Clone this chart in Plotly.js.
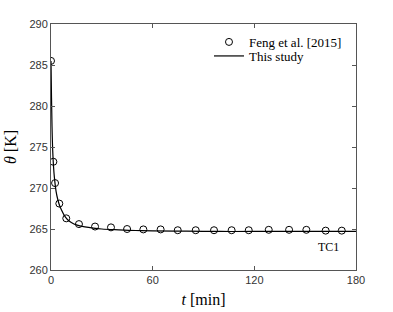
<!DOCTYPE html>
<html>
<head>
<meta charset="utf-8">
<script src="https://cdn.plot.ly/plotly-3.0.1.min.js"></script>
<style>html,body{margin:0;padding:0;background:#fff;}#chart{width:393px;height:312px;}</style>
</head>
<body>
<div id="chart"></div>
<script>
// Measured data (Feng et al. [2015])
const fengT = [0, 1.4, 2.4, 4.9, 9.0, 16.5, 26, 35.4, 44.9, 54.5, 64.7, 74.8, 85.4, 96.2, 106.6, 116.7, 128.5, 140.5, 150.7, 162.1, 171.6];
const fengTheta = [285.5, 273.2, 270.6, 268.1, 266.3, 265.6, 265.3, 265.2, 265.0, 264.95, 264.95, 264.85, 264.85, 264.85, 264.85, 264.85, 264.9, 264.9, 264.9, 264.8, 264.8];
// Model (This study)
const studyT = [0, 0.3, 0.6, 1.0, 1.5, 2.0, 3.0, 4.0, 5.0, 6.0, 8.0, 10, 12, 15, 20, 25, 30, 40, 50, 60, 80, 100, 120, 150, 180];
const studyTheta = [285.5, 281.0, 277.5, 274.6, 272.6, 271.3, 269.6, 268.6, 267.9, 267.4, 266.6, 266.1, 265.8, 265.5, 265.25, 265.1, 265.0, 264.9, 264.82, 264.78, 264.73, 264.7, 264.7, 264.7, 264.7];
const xTicks = [0, 60, 120, 180];
const yTicks = [260, 265, 270, 275, 280, 285, 290];

const serif = "Liberation Serif, Times New Roman, serif";
const sans = "Liberation Sans, Arial, Helvetica, sans-serif";

const traces = [
  {x: fengT, y: fengTheta, mode: 'markers', type: 'scatter', name: 'Feng et al. [2015]', legend: 'legend',
   marker: {symbol: 'circle-open', size: 7, color: '#000', line: {width: 1, color: '#000'}}},
  {x: studyT, y: studyTheta, mode: 'lines', type: 'scatter', name: 'This study', legend: 'legend2',
   line: {color: '#000', width: 1.2, shape: 'spline'}}
];

const axisCommon = {
  showgrid: false, zeroline: false, showline: true, mirror: 'ticks',
  linecolor: '#555', linewidth: 1, ticks: 'inside', ticklen: 4, tickcolor: '#555',
  tickfont: {family: sans, size: 11, color: '#333'}
};

const legendCommon = {xanchor: 'left', yanchor: 'middle', bgcolor: 'rgba(0,0,0,0)',
  font: {family: serif, size: 13, color: '#000'}, itemwidth: 30, borderwidth: 0};

const layout = {
  width: 393, height: 312,
  margin: {l: 51, r: 37, t: 24, b: 42},
  paper_bgcolor: '#fff', plot_bgcolor: '#fff',
  showlegend: true,
  legend: Object.assign({}, legendCommon, {x: 0.518, y: 0.927}),
  legend2: Object.assign({}, legendCommon, {x: 0.518, y: 0.870}),
  xaxis: Object.assign({}, axisCommon, {range: [0, 180], tickvals: xTicks,
    title: {text: '<i>t</i> [min]', font: {family: serif, size: 16, color: '#000'}, standoff: 8}}),
  yaxis: Object.assign({}, axisCommon, {range: [260, 290], tickvals: yTicks,
    title: {text: '<i>θ</i> [K]', font: {family: serif, size: 16, color: '#000'}, standoff: 8}}),
  annotations: [{x: 163.5, y: 262.8, xref: 'x', yref: 'y', text: 'TC1', showarrow: false,
    font: {family: serif, size: 12, color: '#000'}}]
};

Plotly.newPlot('chart', traces, layout, {displayModeBar: false, staticPlot: true});
</script>
</body>
</html>
